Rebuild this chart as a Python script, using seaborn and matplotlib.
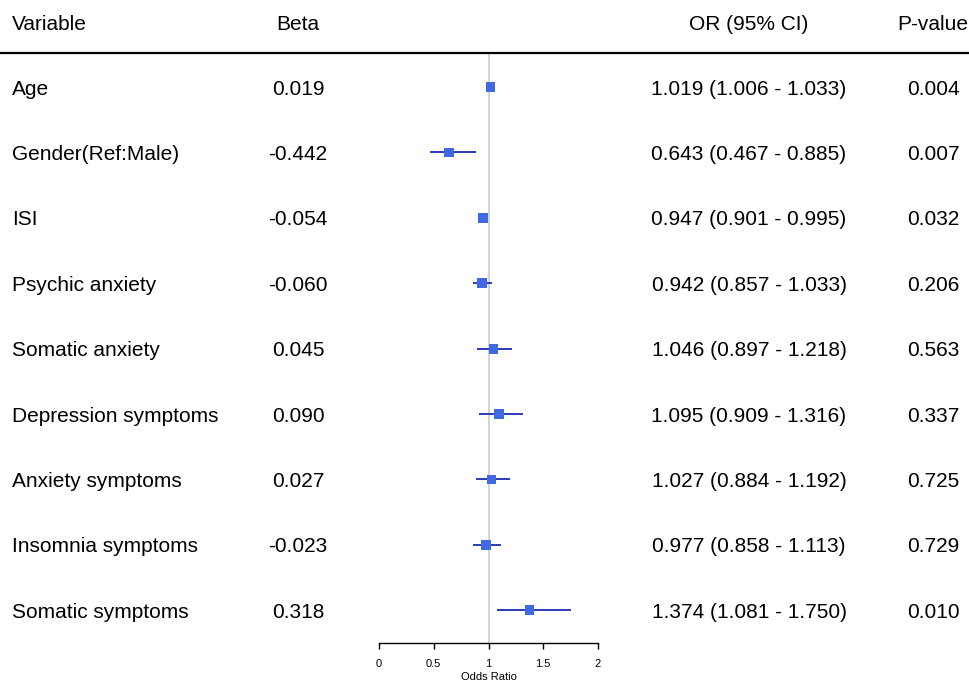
import numpy as np
import pandas as pd
import seaborn as sns
import matplotlib.pyplot as plt
from matplotlib.lines import Line2D
from matplotlib.transforms import blended_transform_factory

variables = ['Age', 'Gender(Ref:Male)', 'ISI', 'Psychic anxiety', 'Somatic anxiety',
             'Depression symptoms', 'Anxiety symptoms', 'Insomnia symptoms', 'Somatic symptoms']
beta = ['0.019', '-0.442', '-0.054', '-0.060', '0.045', '0.090', '0.027', '-0.023', '0.318']
odds = [1.019, 0.643, 0.947, 0.942, 1.046, 1.095, 1.027, 0.977, 1.374]
lower = [1.006, 0.467, 0.901, 0.857, 0.897, 0.909, 0.884, 0.858, 1.081]
upper = [1.033, 0.885, 0.995, 1.033, 1.218, 1.316, 1.192, 1.113, 1.750]
pvals = ['0.004', '0.007', '0.032', '0.206', '0.563', '0.337', '0.725', '0.729', '0.010']
headers = ['Variable', 'Beta', 'OR (95% CI)', 'P-value']
xticks = [0, 0.5, 1, 1.5, 2]

df = pd.DataFrame({'var': variables, 'beta': beta, 'OR': odds, 'lo': lower, 'hi': upper, 'p': pvals})
df['row'] = np.arange(len(df))

sns.set_style('white')
plt.rcParams['font.family'] = ['Liberation Sans', 'DejaVu Sans']
plt.rcParams['text.color'] = 'black'
plt.rcParams['axes.labelcolor'] = 'black'
plt.rcParams['xtick.color'] = 'black'

W, H = 970, 683
fig = plt.figure(figsize=(9.7, 6.83), dpi=100)
ax = fig.add_axes([379 / W, 1 - 643 / H, (598 - 379) / W, (643 - 53) / H])

ax.axvline(1, color='#d0d0d0', lw=1.3, zorder=0)
ax.hlines(df['row'], df['lo'], df['hi'], color='#2b3bb8', lw=1.4, zorder=2)
sns.scatterplot(data=df, x='OR', y='row', marker='s', s=50, color='#4169e1',
                edgecolor='none', ax=ax, zorder=3, legend=False)

ax.set_xlim(0, 2)
ax.set_ylim(8.5, -0.52)
ax.set_yticks([])
ax.set_xticks(xticks)
ax.set_xticklabels([f'{t:g}' for t in xticks])
ax.tick_params(axis='x', direction='out', length=4.5, width=1, labelsize=8, pad=7, bottom=True, color='black')
ax.set_xlabel('Odds Ratio', fontsize=8, labelpad=2)
ax.set_ylabel('')
for s in ['top', 'left', 'right']:
    ax.spines[s].set_visible(False)
ax.spines['bottom'].set_color('black')
ax.spines['bottom'].set_linewidth(1)
ax.patch.set_alpha(0)

# table text
tr = blended_transform_factory(fig.transFigure, ax.transData)
col_x = [12 / W, 298 / W, 749 / W, 933 / W]
col_ha = ['left', 'center', 'center', 'center']
for _, r in df.iterrows():
    ci = f"{r['OR']:.3f} ({r['lo']:.3f} - {r['hi']:.3f})"
    for x, ha, txt in zip(col_x, col_ha, [r['var'], r['beta'], ci, r['p']]):
        ax.text(x, r['row'], txt, transform=tr, ha=ha, va='center_baseline', fontsize=15, clip_on=False)

for x, ha, txt in zip(col_x, col_ha, headers):
    fig.text(x, 1 - 22 / H, txt, ha=ha, va='center_baseline', fontsize=15)

fig.add_artist(Line2D([0, 1], [1 - 53 / H, 1 - 53 / H], transform=fig.transFigure, color='black', lw=1.6))

fig.savefig('out.png', dpi=100)
